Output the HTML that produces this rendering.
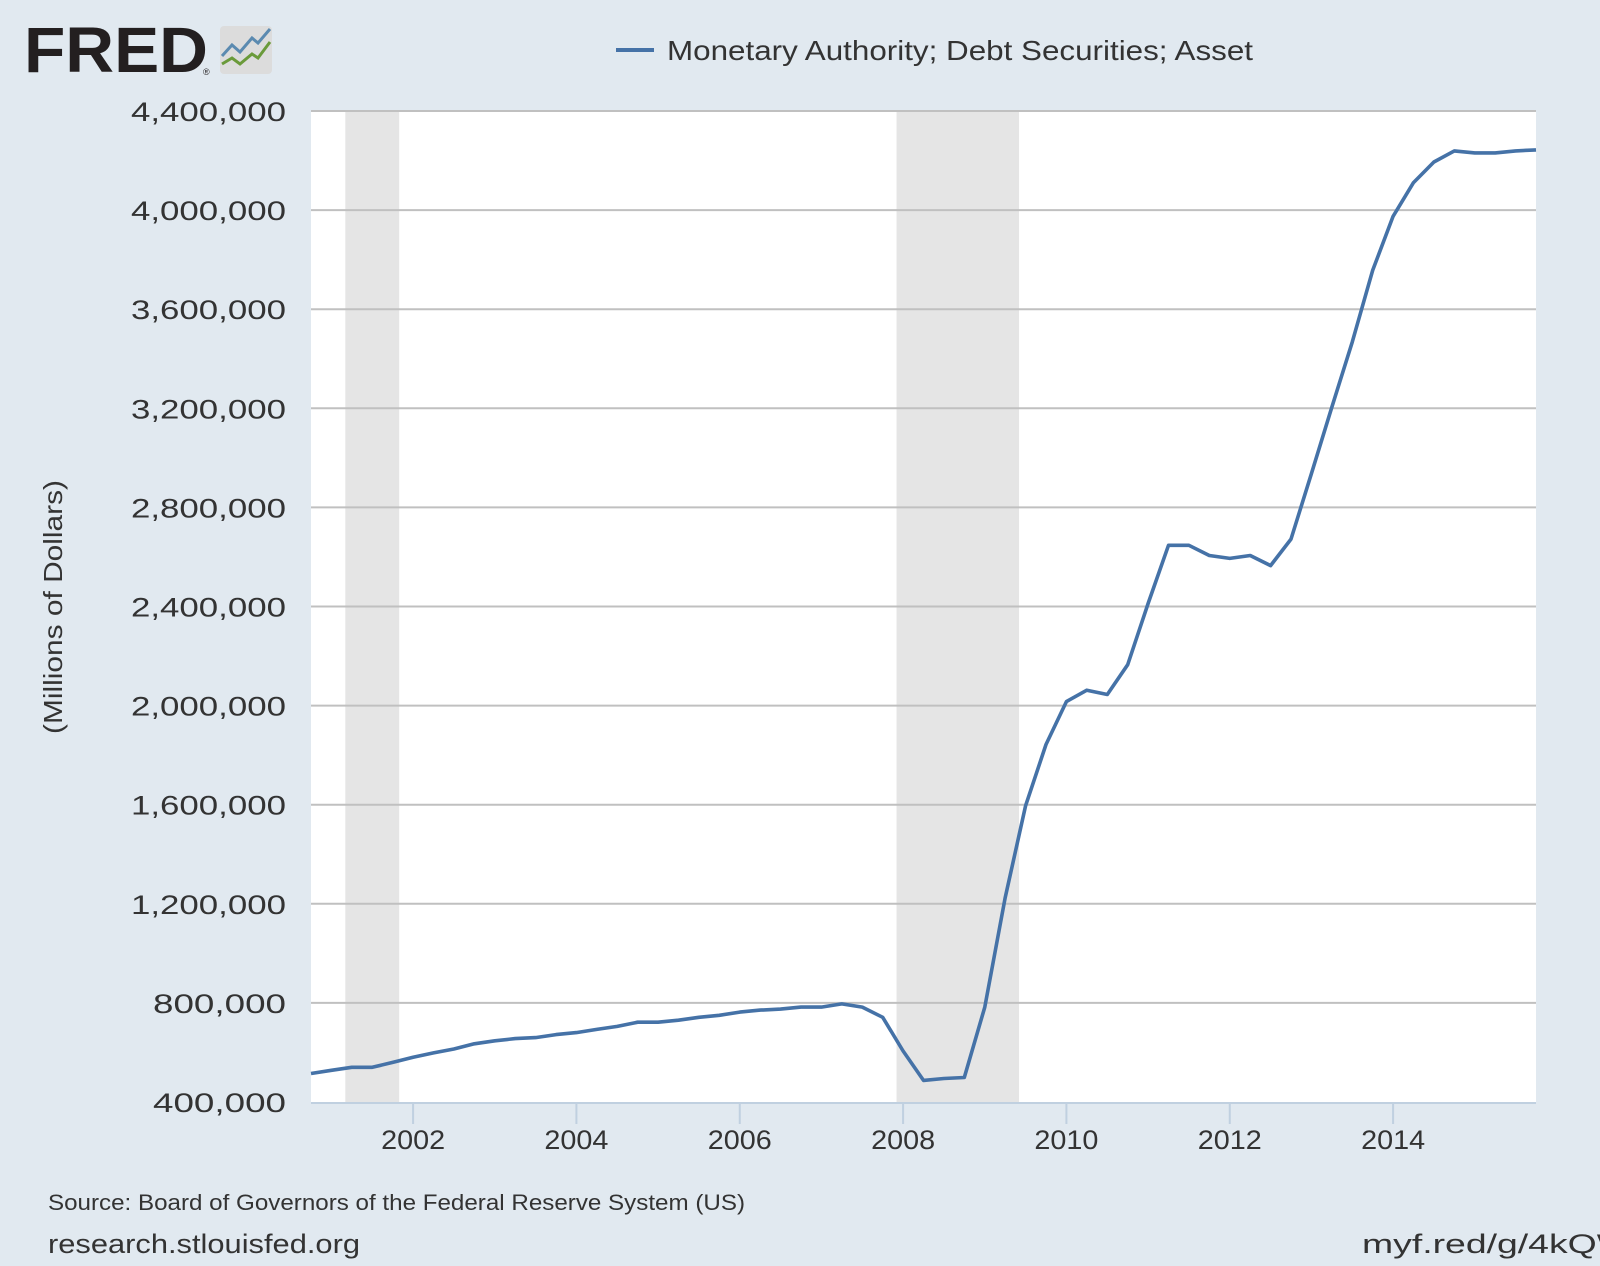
<!DOCTYPE html>
<html><head><meta charset="utf-8"><style>
html,body{margin:0;padding:0;background:#e1e9f0;}
svg{display:block;font-family:"Liberation Sans",sans-serif;}
</style></head><body>
<svg id="chart" width="1600" height="1266" viewBox="0 0 1600 1266">
<rect x="0" y="0" width="1600" height="1266" fill="#e1e9f0"/>
<g>
<text x="24" y="72" font-size="64" font-weight="bold" fill="#231f20" textLength="184" lengthAdjust="spacingAndGlyphs">FRED</text>
<text x="203" y="75" font-size="9" fill="#231f20">®</text>
<rect x="220" y="26" width="52" height="48" rx="4" fill="#dcdcdc"/>
<polyline points="222,56 232,45 240,52 252,38 258,43 270,29" fill="none" stroke="#5b8ab0" stroke-width="3"/>
<polyline points="222,64 232,58 240,64 252,54 258,58 270,42" fill="none" stroke="#6a9a3a" stroke-width="3"/>
</g>
<g>
<line x1="616" y1="50" x2="654" y2="50" stroke="#4572a7" stroke-width="4"/>
<text x="667" y="60" font-size="28" fill="#333" textLength="586" lengthAdjust="spacingAndGlyphs">Monetary Authority; Debt Securities; Asset</text>
</g>
<rect x="311" y="111" width="1225" height="991" fill="#fff"/>
<g id="rec"></g>
<g id="grid"></g>
<g id="yticks"></g>
<g id="xticks"></g>
<path id="line" fill="none" stroke="#4572a7" stroke-width="3.6" stroke-linejoin="round"/>
<text transform="translate(62,607) rotate(-90)" text-anchor="middle" font-size="26" fill="#333" textLength="254" lengthAdjust="spacingAndGlyphs">(Millions of Dollars)</text>
<text x="48" y="1210" font-size="22" fill="#333" textLength="697" lengthAdjust="spacingAndGlyphs">Source: Board of Governors of the Federal Reserve System (US)</text>
<text x="48" y="1253" font-size="27" fill="#333" textLength="312" lengthAdjust="spacingAndGlyphs">research.stlouisfed.org</text>
<text x="1362" y="1253" font-size="27" fill="#333" textLength="270" lengthAdjust="spacingAndGlyphs">myf.red/g/4kQW</text>
</svg>
<script>
const values=[515,528,540,540,560,581,598,614,635,647,656,660,672,680,693,705,722,722,730,742,750,763,771,775,783,783,796,783,742,606,487,495,499,783,1225,1596,1843,2016,2062,2045,2165,2412,2647,2647,2606,2594,2606,2565,2672,2936,3204,3468,3757,3975,4111,4194,4239,4231,4231,4239,4243];
const startYear=2000.75;
const yTicks=[400000,800000,1200000,1600000,2000000,2400000,2800000,3200000,3600000,4000000,4400000];
const xTicks=[2002,2004,2006,2008,2010,2012,2014];
const recessions=[[2001.17,2001.83],[2007.92,2009.42]];
const L=311,R=1536,T=111,B=1102,X0=2000.75,X1=2015.75,Y0=400000,Y1=4400000;
const NS="http://www.w3.org/2000/svg";
const sx=t=>L+(t-X0)/(X1-X0)*(R-L);
const sy=v=>B-(v-Y0)/(Y1-Y0)*(B-T);
function mk(tag,attrs,parent){const e=document.createElementNS(NS,tag);for(const k in attrs)e.setAttribute(k,attrs[k]);document.getElementById(parent).appendChild(e);return e;}
recessions.forEach(r=>{const e=mk('rect',{x:sx(r[0]),y:T,width:sx(r[1])-sx(r[0]),height:B-T,fill:'#e5e5e5'},'rec');

});
yTicks.forEach(v=>{
if(v>Y0){const g=mk('line',{x1:L,x2:R,y1:sy(v),y2:sy(v),stroke:'#c0c0c0','stroke-width':2},'grid');

}
const s=v.toLocaleString('en-US');
const t=mk('text',{x:286,y:sy(v)+10,'text-anchor':'end','font-size':27,fill:'#333',textLength:11*s.length+56,lengthAdjust:'spacingAndGlyphs'},'yticks');
t.textContent=s;

});
const ax=mk('line',{x1:L,x2:R,y1:B+1,y2:B+1,stroke:'#c0d0e0','stroke-width':2},'xticks');


xTicks.forEach(y=>{
const tk=mk('line',{x1:sx(y),x2:sx(y),y1:B,y2:B+22,stroke:'#c0d0e0','stroke-width':2},'xticks');


const t=mk('text',{x:sx(y),y:1149,'text-anchor':'middle','font-size':27,fill:'#333',textLength:64,lengthAdjust:'spacingAndGlyphs'},'xticks');
t.textContent=y;

});
document.getElementById('line').setAttribute('d',values.map((v,i)=>(i?'L':'M')+sx(startYear+i*0.25).toFixed(1)+','+sy(v*1000).toFixed(1)).join(''));
</script>
</body></html>
